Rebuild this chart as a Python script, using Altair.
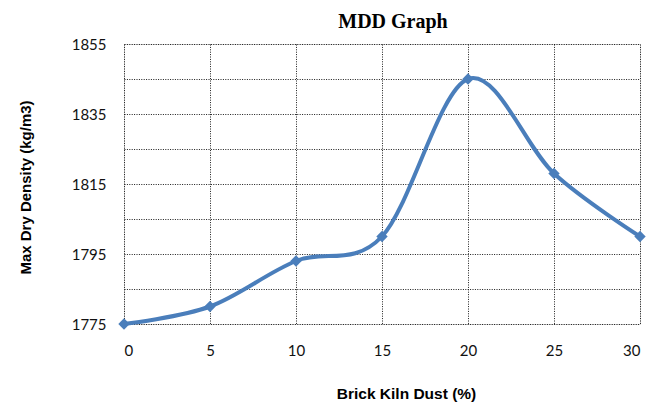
import altair as alt
import pandas as pd

dust = [0, 5, 10, 15, 20, 25, 30]
mdd = [1775, 1780, 1793, 1800, 1845, 1818, 1800]

df = pd.DataFrame({"dust": dust, "mdd": mdd})

color = "#4A7EBB"
grid_style = dict(gridColor="#000000", gridDash=[1, 1.4], gridWidth=1, gridOpacity=0.9)

x = alt.X(
    "dust:Q",
    scale=alt.Scale(domain=[0, 30], nice=False, zero=False),
    axis=alt.Axis(
        values=[0, 5, 10, 15, 20, 25, 30],
        title="Brick Kiln Dust (%)",
        titleFont="Liberation Sans", titleFontSize=15.5, titleFontWeight="bold",
        titleX=282, titleY=69, titleBaseline="middle", titleAnchor="middle",
        labelFont="Lato", labelFontSize=15, labelColor="#111111", labelPadding=19,
        domain=False, ticks=False, **grid_style,
    ),
)
y = alt.Y(
    "mdd:Q",
    scale=alt.Scale(domain=[1775, 1855], nice=False, zero=False),
    axis=alt.Axis(
        values=list(range(1775, 1856, 10)),
        format="d",
        labelExpr="(datum.value - 1775) % 20 == 0 ? datum.label : ''",
        title="Max Dry Density (kg/m3)",
        titleFont="Liberation Sans", titleFontSize=15, titleFontWeight="bold",
        titleAngle=270, titleX=-99, titleY=143, titleBaseline="middle", titleAlign="center",
        labelFont="Lato", labelFontSize=15, labelColor="#111111", labelPadding=18,
        domain=False, ticks=False, **grid_style,
    ),
)

line = alt.Chart(df).mark_line(
    interpolate="cardinal", color=color, strokeWidth=4
).encode(x=x, y=y)

pts = alt.Chart(df).mark_point(
    shape="diamond", filled=True, color=color, size=130, opacity=1
).encode(x=x, y=y)

chart = (
    alt.layer(line, pts)
    .properties(
        width=516,
        height=280,
        padding={"left": 124, "top": 44, "right": 22, "bottom": 79},
        autosize=alt.AutoSizeParams(type="none"),
        title=alt.TitleParams(
            "MDD Graph", font="Liberation Serif", fontSize=20, fontWeight="bold",
            anchor="middle", dx=11, offset=5, color="#000000",
        ),
    )
    .configure_view(stroke=None)
    .configure(background="white")
)

chart.save("out.html", embed_options={"renderer": "svg", "actions": False})
